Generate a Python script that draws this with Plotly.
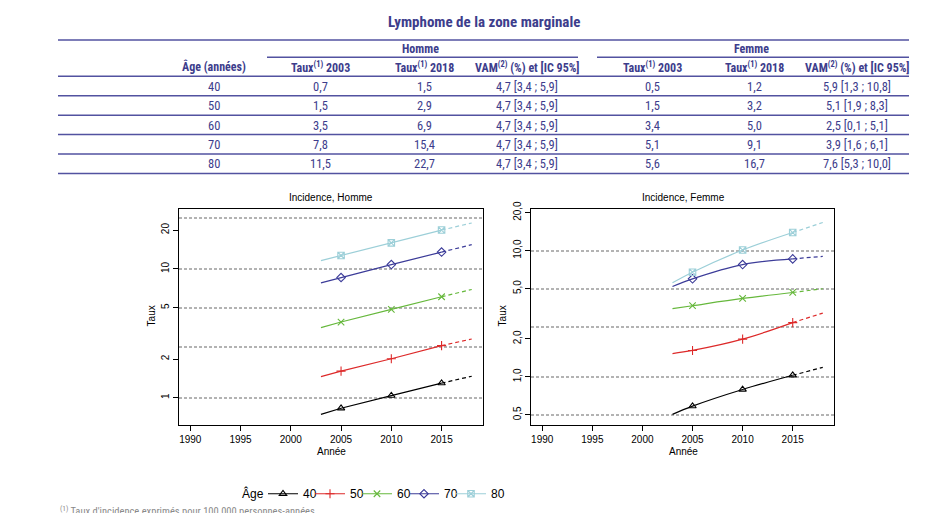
import plotly.graph_objects as go

W, H = 934, 513
OX = 8                 # page offset compensation (x)
CY, SY = 14.5, 0.988   # page offset/scale compensation (y)

# ---------------- data ----------------
ages = ["40", "50", "60", "70", "80"]
h_taux_2003 = ["0,7", "1,5", "3,5", "7,8", "11,5"]
h_taux_2018 = ["1,5", "2,9", "6,9", "15,4", "22,7"]
h_vam = ["4,7 [3,4 ; 5,9]", "4,7 [3,4 ; 5,9]", "4,7 [3,4 ; 5,9]", "4,7 [3,4 ; 5,9]", "4,7 [3,4 ; 5,9]"]
f_taux_2003 = ["0,5", "1,5", "3,4", "5,1", "5,6"]
f_taux_2018 = ["1,2", "3,2", "5,0", "9,1", "16,7"]
f_vam = ["5,9 [1,3 ; 10,8]", "5,1 [1,9 ; 8,3]", "2,5 [0,1 ; 5,1]", "3,9 [1,6 ; 6,1]", "7,6 [5,3 ; 10,0]"]

years = [2003, 2005, 2010, 2015, 2018]          # last point = projection
marker_years = [2005, 2010, 2015]

homme_40 = [0.745, 0.83, 1.04, 1.30, 1.47]
homme_50 = [1.46, 1.61, 2.01, 2.54, 2.86]
homme_60 = [3.50, 3.87, 4.85, 6.08, 6.92]
homme_70 = [7.80, 8.57, 10.8, 13.5, 15.4]
homme_80 = [11.6, 12.7, 15.9, 20.0, 22.7]

femme_40 = [0.505, 0.587, 0.795, 1.03, 1.19]
femme_50 = [1.53, 1.62, 1.99, 2.69, 3.20]
femme_60 = [3.47, 3.66, 4.18, 4.66, 4.99]
femme_70 = [5.20, 5.98, 7.75, 8.60, 9.00]
femme_80 = [5.56, 6.74, 10.1, 13.9, 16.7]

x_ticks = [1990, 1995, 2000, 2005, 2010, 2015]
h_y_ticks = [1, 2, 5, 10, 20]
h_y_ticktext = ["1", "2", "5", "10", "20"]
f_y_ticks = [0.5, 1, 2, 5, 10, 20]
f_y_ticktext = ["0,5", "1,0", "2,0", "5,0", "10,0", "20,0"]
h_grid = [1, 2.5, 5, 10, 25]
f_grid = [0.5, 1, 2.5, 5, 10]

colors = ["#000000", "#dd2a2a", "#66b83c", "#3c3c99", "#9ccfd8"]
symbols = ["triangle-up-open", "cross-thin-open", "x-thin-open", "diamond-open", "square-x-open"]

homme = [homme_40, homme_50, homme_60, homme_70, homme_80]
femme = [femme_40, femme_50, femme_60, femme_70, femme_80]

fig = go.Figure()


def add_series(vals, xa, ya, color, symbol, shape):
    fig.add_trace(go.Scatter(x=years[:4], y=vals[:4], mode="lines", line=dict(color=color, width=1.2, shape=shape),
                             xaxis=xa, yaxis=ya, showlegend=False, hoverinfo="skip"))
    fig.add_trace(go.Scatter(x=years[3:], y=vals[3:], mode="lines", line=dict(color=color, width=1.2, dash="4px,3px"),
                             xaxis=xa, yaxis=ya, showlegend=False, hoverinfo="skip"))
    fig.add_trace(go.Scatter(x=marker_years, y=vals[1:4], mode="markers",
                             marker=dict(symbol=symbol, size=6.5, color=color, line=dict(color=color, width=1.1)),
                             xaxis=xa, yaxis=ya, showlegend=False, hoverinfo="skip"))


for i in range(5):
    add_series(homme[i], "x", "y", colors[i], symbols[i], "linear")
    add_series(femme[i], "x2", "y2", colors[i], symbols[i], "spline")

# legend-only entries
for i in range(5):
    fig.add_trace(go.Scatter(x=[None], y=[None], mode="lines+markers", name=ages[i],
                             line=dict(color=colors[i], width=1.2),
                             marker=dict(symbol=symbols[i], size=6.5, color=colors[i], line=dict(color=colors[i], width=1.1)),
                             xaxis="x", yaxis="y", showlegend=True))
# invisible spacer entry so the last label is not clipped
fig.add_trace(go.Scatter(x=[None], y=[None], mode="lines", name=" ", line=dict(color="rgba(0,0,0,0)", width=0.1),
                         xaxis="x", yaxis="y", showlegend=True, hoverinfo="skip"))


def px(x):
    return (x - OX) / W


def py(y):
    return 1 - ((y - CY) / SY) / H


ydom = [py(424.5), py(208)]
axis_font = dict(family="Liberation Sans, Arial, sans-serif", size=10, color="#000")

common_x = dict(range=[1988.88, 2019.12], tickvals=x_ticks, ticks="outside", ticklen=5, tickcolor="#000",
                showline=True, linecolor="#000", linewidth=1, mirror=True, showgrid=False, zeroline=False,
                tickfont=axis_font)
common_y = dict(type="log", ticks="outside", ticklen=5, tickcolor="#000", tickangle=-90,
                showline=True, linecolor="#000", linewidth=1, mirror=True, showgrid=False, zeroline=False,
                tickfont=axis_font, domain=ydom)

fig.update_layout(
    xaxis=dict(domain=[px(179), px(483)], anchor="y", **common_x),
    xaxis2=dict(domain=[px(531), px(834)], anchor="y2", **common_x),
    yaxis=dict(anchor="x", range=[-0.207, 1.466], tickvals=h_y_ticks, ticktext=h_y_ticktext,
               minor=dict(tickvals=h_grid, showgrid=True, gridcolor="#b3b3b3", griddash="3px,2px", gridwidth=1.5, ticks=""),
               **common_y),
    yaxis2=dict(anchor="x2", range=[-0.377, 1.331], tickvals=f_y_ticks, ticktext=f_y_ticktext,
                minor=dict(tickvals=f_grid, showgrid=True, gridcolor="#b3b3b3", griddash="3px,2px", gridwidth=1.5, ticks=""),
                **common_y),
)

# ---------------- table ----------------
tab_color = "#3d3d8c"
line_color = "#5252a0"
cond = "Roboto Condensed, DejaVu Sans Condensed, Liberation Sans Narrow, Arial Narrow, sans-serif"
ann = []


def txt(x, y, s, size=12, bold=False, color=tab_color, family=cond, xanchor="center"):
    ann.append(dict(x=px(x), y=py(y), xref="paper", yref="paper", text=("<b>%s</b>" % s) if bold else s,
                    showarrow=False, xanchor=xanchor, yanchor="middle",
                    font=dict(family=family, size=size, color=color)))


txt(484, 21, "Lymphome de la zone marginale", size=15, bold=True)
txt(420, 47.5, "Homme", bold=True)
txt(751, 47.5, "Femme", bold=True)
col_x = [214, 320, 424, 527, 652, 754, 857]
headers = ["Âge (années)", "Taux<sup>(1)</sup> 2003", "Taux<sup>(1)</sup> 2018", "VAM<sup>(2)</sup> (%) et [IC 95%]",
           "Taux<sup>(1)</sup> 2003", "Taux<sup>(1)</sup> 2018", "VAM<sup>(2)</sup> (%) et [IC 95%]"]
for cx, h in zip(col_x, headers):
    txt(cx, 65.5, h, bold=True)
row_y = [85, 104.5, 124, 143.5, 163]
cols = [ages, h_taux_2003, h_taux_2018, h_vam, f_taux_2003, f_taux_2018, f_vam]
for cx, col in zip(col_x, cols):
    for ry, v in zip(row_y, col):
        txt(cx, ry, v, size=12.5)

shapes = []


def hline(x0, x1, y, w=1.5):
    shapes.append(dict(type="line", xref="paper", yref="paper", x0=px(x0), x1=px(x1), y0=py(y), y1=py(y),
                       line=dict(color=line_color, width=w)))


hline(58, 909, 38.5)
hline(267, 578, 56)
hline(597, 909, 56)
for yy in [75, 94.5, 114, 133.5, 153, 172.5]:
    hline(58, 909, yy)

# chart titles / axis titles
helv = "Liberation Sans, Arial, sans-serif"
txt(331, 196.5, "Incidence, Homme", size=10, color="#000", family=helv)
txt(683, 196.5, "Incidence, Femme", size=10, color="#000", family=helv)
txt(331, 452, "Année", size=10, color="#000", family=helv)
txt(683, 452, "Année", size=10, color="#000", family=helv)
for xx in [151, 502]:
    ann.append(dict(x=px(xx), y=py(316), xref="paper", yref="paper", text="Taux", showarrow=False, textangle=-90,
                    xanchor="center", yanchor="middle", font=dict(family=helv, size=10, color="#000")))

# legend title as text
txt(266, 494, "Âge", size=12, color="#000", family=helv, xanchor="right")

# footnote
txt(58, 511, "<sup>(1)</sup> Taux d'incidence exprimés pour 100 000 personnes-années", size=10.5, color="#8a8a8a",
    xanchor="left")

fig.update_layout(
    width=W, height=H, margin=dict(l=0, r=0, t=0, b=0),
    paper_bgcolor="white", plot_bgcolor="white",
    annotations=ann, shapes=shapes,
    legend=dict(orientation="h", x=px(263), y=py(494), xanchor="left", yanchor="middle",
                font=dict(family=helv, size=12, color="#000"), itemwidth=30, entrywidth=2,
                bgcolor="rgba(0,0,0,0)", tracegroupgap=0),
)

fig.write_html("out.html")
